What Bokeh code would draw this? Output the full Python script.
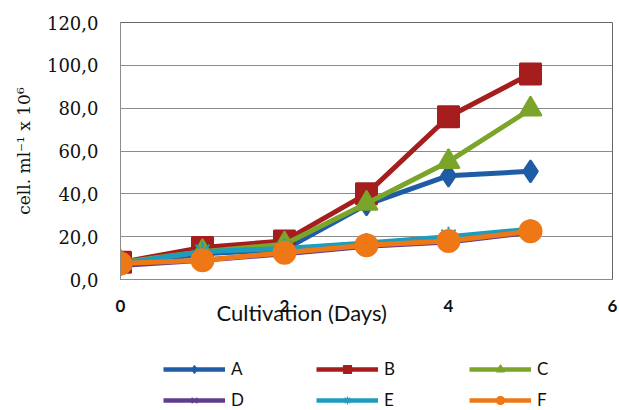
from bokeh.plotting import figure
from bokeh.layouts import column
from bokeh.models import Legend, LegendItem, FixedTicker, Range1d
from bokeh.embed import file_html
from bokeh.resources import INLINE

days = [0, 1, 2, 3, 4, 5]
series_names = ["A", "B", "C", "D", "E", "F"]
A = [7.0, 12.0, 14.0, 35.0, 48.5, 50.5]
B = [8.0, 15.0, 18.0, 40.0, 76.0, 96.0]
C = [8.0, 13.0, 16.5, 35.5, 55.0, 79.5]
D = [6.5, 9.0, 12.0, 15.5, 17.5, 22.0]
E = [7.5, 13.0, 14.5, 17.0, 20.0, 23.5]
F = [7.5, 9.0, 12.5, 16.0, 18.0, 22.5]
values = [A, B, C, D, E, F]

x_ticks = [0, 2, 4, 6]
y_ticks = [0, 20, 40, 60, 80, 100, 120]
y_tick_labels = ["0,0", "20,0", "40,0", "60,0", "80,0", "100,0", "120,0"]
x_title = "Cultivation (Days)"
y_title = "cell. ml\u207b\u00b9 x 10\u2076"

colors = ["#1F5CA6", "#A51D1D", "#7AA42A", "#5F3C8E", "#1E9CBD", "#EE7815"]
markers = ["diamond", "square", "triangle", "x", "asterisk", "circle"]
sizes = [22, 21, 22, 18, 20, 22]

p = figure(width=619, height=340, output_backend="svg", toolbar_location=None,
           x_range=Range1d(0, 6), y_range=Range1d(0, 120),
           min_border_left=120, min_border_right=7, min_border_top=22,
           min_border_bottom=61)
p.background_fill_color = "white"
p.border_fill_color = "white"
p.outline_line_color = "#666666"

p.xgrid.grid_line_color = None
p.ygrid.grid_line_color = "#8c8c8c"
p.ygrid.grid_line_width = 1.2

p.xaxis.ticker = FixedTicker(ticks=x_ticks)
p.yaxis.ticker = FixedTicker(ticks=y_ticks)
p.yaxis.major_label_overrides = {t: l for t, l in zip(y_ticks, y_tick_labels)}

for ax in (p.xaxis, p.yaxis):
    ax.axis_line_color = "#8c8c8c"
    ax.major_tick_line_color = None
    ax.minor_tick_line_color = None
    ax.major_tick_out = 0
    ax.major_tick_in = 0

p.xaxis.major_label_text_font = "Lato"
p.xaxis.major_label_text_font_style = "bold"
p.xaxis.major_label_text_font_size = "17px"
p.xaxis.major_label_text_color = "#111111"
p.xaxis.major_label_standoff = 20
# trailing no-break spaces shift the centred title left, as in the original
p.xaxis.axis_label = x_title + "\u00a0" * 23
p.xaxis.axis_label_text_font = "Lato"
p.xaxis.axis_label_text_font_style = "normal"
p.xaxis.axis_label_text_font_size = "22px"
p.xaxis.axis_label_text_color = "#111111"
p.xaxis.axis_label_standoff = -16

p.yaxis.major_label_text_font = "DejaVu Serif"
p.yaxis.major_label_text_font_size = "18px"
p.yaxis.major_label_text_color = "#111111"
p.yaxis.major_label_standoff = 22
p.yaxis.axis_label = y_title
p.yaxis.axis_label_text_font = "DejaVu Serif"
p.yaxis.axis_label_text_font_style = "normal"
p.yaxis.axis_label_text_font_size = "17px"
p.yaxis.axis_label_text_color = "#111111"
p.yaxis.axis_label_standoff = 10

for vals, col, mk, sz in zip(values, colors, markers, sizes):
    p.line(days, vals, line_color=col, line_width=5)
    p.scatter(days, vals, marker=mk, size=sz, fill_color=col, line_color=col,
              line_width=2)

# legend strip below the chart (its data lies outside the strip's view)
lg = figure(width=619, height=70, output_backend="svg", toolbar_location=None,
            x_range=Range1d(-100, -99), y_range=Range1d(-100, -99),
            x_axis_location=None, y_axis_location=None,
            min_border_left=0, min_border_right=0, min_border_top=0,
            min_border_bottom=0)
lg.outline_line_color = None
lg.xgrid.grid_line_color = None
lg.ygrid.grid_line_color = None
lg.background_fill_color = "white"
lg.border_fill_color = "white"

item_map = {}
for name, vals, col, mk in zip(series_names, values, colors, markers):
    ln = lg.line(days, vals, line_color=col, line_width=4.5)
    sc = lg.scatter(days, vals, marker=mk, fill_color=col, line_color=col, line_width=1.2)
    item_map[name] = LegendItem(label=name, renderers=[ln, sc])

# legend fills column by column: order so rows read A B C / D E F
order = ["A", "D", "B", "E", "C", "F"]
legend = Legend(items=[item_map[n] for n in order], ncols=3, location=(43, 0),
                glyph_width=62, glyph_height=20, label_standoff=6,
                label_width=75, label_height=20, spacing=10, padding=0, margin=0,
                border_line_color=None, background_fill_alpha=0,
                label_text_font="Lato", label_text_font_size="17px",
                label_text_color="#111111")
lg.add_layout(legend, "center")

layout = column(p, lg, spacing=0)
open("out.html", "w").write(file_html(layout, INLINE))
